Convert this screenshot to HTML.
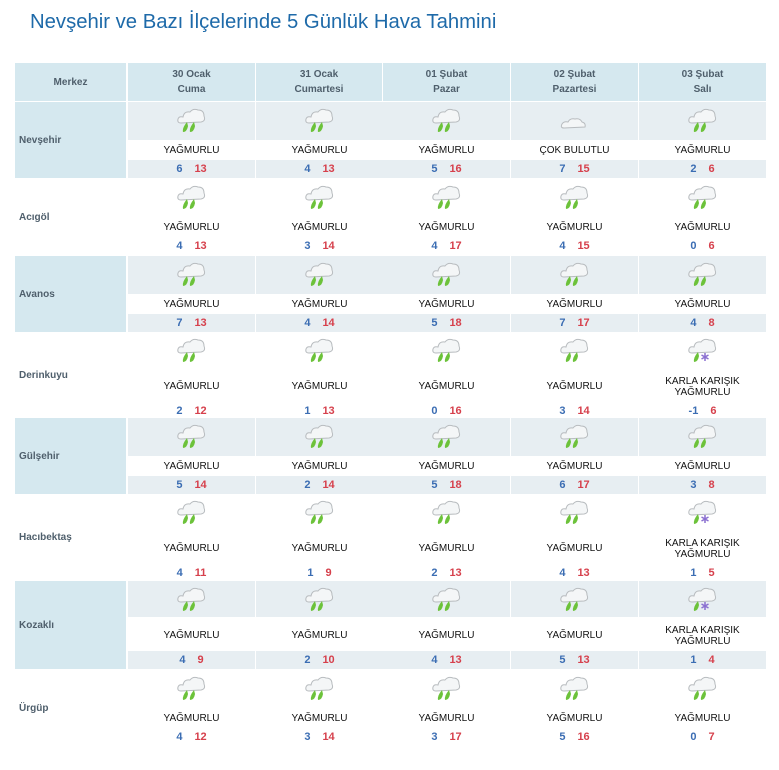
<!DOCTYPE html>
<html><head><meta charset="utf-8"><style>
body{margin:0;width:779px;height:770px;background:#fff;font-family:"Liberation Sans","DejaVu Sans",sans-serif;position:relative;overflow:hidden}
h1{position:absolute;left:30px;top:11px;margin:0;font-weight:normal;font-size:20.3px;color:#1e6aa9}
.hd{position:absolute;top:63px;height:38px;background:#d5e8ef;color:#4f5f6c;font-size:10px;font-weight:bold;text-align:center;line-height:15px;display:flex;flex-direction:column;justify-content:center}
.row{position:absolute;left:15px;width:751px}
.nm{position:absolute;left:0;top:0;bottom:0;width:111px;font-size:10px;font-weight:bold;color:#4f5f6c;display:flex;align-items:center;padding-left:4px;box-sizing:border-box}
.s .nm{background:#d5e8ef}
.c{position:absolute;top:0;bottom:0;width:127px}
.s .c .b1{position:absolute;left:0;right:0;top:0;height:var(--tb);background:#e7eef2}
.s .c .b2{position:absolute;left:0;right:0;bottom:0;height:18px;background:#e7eef2}
.ic{position:absolute;left:47px;top:4px;width:34px;height:30px}
.tx{position:absolute;left:0;right:0;top:var(--tx);text-align:center;font-size:10px;line-height:11px;color:#111}
.tx.two{top:calc(var(--tx) - 5px)}
.tp{position:absolute;left:0;right:0;top:var(--tp);text-align:center;font-size:11px;font-weight:bold;line-height:12px}
.lo{color:#3b6db3;margin-right:12px}.hi{color:#d6404c}
.n{--tb:38px;--tx:43px;--tp:61px;height:76px}
.t{--tb:36px;--tx:49px;--tp:73px;height:87px}
</style></head><body>
<svg width="0" height="0" style="position:absolute"><defs>
<g id="cl"><path d="M6 17 Q2 17 3 13 Q4 10 8 11 Q9 5 15 6 Q18 2 23 4 Q29 4 29 10 Q31 15 26 16 Z" fill="#f4f6f7" stroke="#b8bcbf" stroke-width="1"/></g>
<g id="r"><use href="#cl"/><path d="M12 16 Q7 22 8 26 Q12 26 13 20 Z" fill="#6cc23a"/><path d="M19 16 Q14 22 15 26 Q19 26 20 20 Z" fill="#6cc23a"/></g>
<g id="k"><use href="#cl"/><path d="M12 16 Q7 22 8 26 Q12 26 13 20 Z" fill="#6cc23a"/><path d="M19 17v8M15.5 19l7 4M15.5 23l7-4" stroke="#8a6fd0" stroke-width="1.5"/></g>
<g id="b"><path d="M6 22 Q2 22 4 18 Q6 15 10 16 Q12 12 17 13 Q22 12 24 16 Q28 17 27 21 Z" fill="#f4f6f7" stroke="#b8bcbf"/></g>
</defs></svg>
<h1>Nevşehir ve Bazı İlçelerinde 5 Günlük Hava Tahmini</h1>
<div class="hd" style="left:15px;width:111px">Merkez</div>
<div class="hd" style="left:128px;width:127px">30 Ocak<br>Cuma</div>
<div class="hd" style="left:256px;width:126px">31 Ocak<br>Cumartesi</div>
<div class="hd" style="left:383px;width:127px">01 Şubat<br>Pazar</div>
<div class="hd" style="left:511px;width:127px">02 Şubat<br>Pazartesi</div>
<div class="hd" style="left:639px;width:127px">03 Şubat<br>Salı</div>

<div class="row n s" style="top:102px"><div class="nm">Nevşehir</div>
<div class="c" style="left:113px"><div class="b1"></div><div class="b2"></div><svg class="ic"><use href="#r"/></svg><div class="tx">YAĞMURLU</div><div class="tp"><span class="lo">6</span><span class="hi">13</span></div></div>
<div class="c" style="left:241px"><div class="b1"></div><div class="b2"></div><svg class="ic"><use href="#r"/></svg><div class="tx">YAĞMURLU</div><div class="tp"><span class="lo">4</span><span class="hi">13</span></div></div>
<div class="c" style="left:368px"><div class="b1"></div><div class="b2"></div><svg class="ic"><use href="#r"/></svg><div class="tx">YAĞMURLU</div><div class="tp"><span class="lo">5</span><span class="hi">16</span></div></div>
<div class="c" style="left:496px"><div class="b1"></div><div class="b2"></div><svg class="ic"><use href="#b"/></svg><div class="tx">ÇOK BULUTLU</div><div class="tp"><span class="lo">7</span><span class="hi">15</span></div></div>
<div class="c" style="left:624px"><div class="b1"></div><div class="b2"></div><svg class="ic"><use href="#r"/></svg><div class="tx">YAĞMURLU</div><div class="tp"><span class="lo">2</span><span class="hi">6</span></div></div>
</div>

<div class="row n" style="top:179px"><div class="nm">Acıgöl</div>
<div class="c" style="left:113px"><svg class="ic"><use href="#r"/></svg><div class="tx">YAĞMURLU</div><div class="tp"><span class="lo">4</span><span class="hi">13</span></div></div>
<div class="c" style="left:241px"><svg class="ic"><use href="#r"/></svg><div class="tx">YAĞMURLU</div><div class="tp"><span class="lo">3</span><span class="hi">14</span></div></div>
<div class="c" style="left:368px"><svg class="ic"><use href="#r"/></svg><div class="tx">YAĞMURLU</div><div class="tp"><span class="lo">4</span><span class="hi">17</span></div></div>
<div class="c" style="left:496px"><svg class="ic"><use href="#r"/></svg><div class="tx">YAĞMURLU</div><div class="tp"><span class="lo">4</span><span class="hi">15</span></div></div>
<div class="c" style="left:624px"><svg class="ic"><use href="#r"/></svg><div class="tx">YAĞMURLU</div><div class="tp"><span class="lo">0</span><span class="hi">6</span></div></div>
</div>

<div class="row n s" style="top:256px"><div class="nm">Avanos</div>
<div class="c" style="left:113px"><div class="b1"></div><div class="b2"></div><svg class="ic"><use href="#r"/></svg><div class="tx">YAĞMURLU</div><div class="tp"><span class="lo">7</span><span class="hi">13</span></div></div>
<div class="c" style="left:241px"><div class="b1"></div><div class="b2"></div><svg class="ic"><use href="#r"/></svg><div class="tx">YAĞMURLU</div><div class="tp"><span class="lo">4</span><span class="hi">14</span></div></div>
<div class="c" style="left:368px"><div class="b1"></div><div class="b2"></div><svg class="ic"><use href="#r"/></svg><div class="tx">YAĞMURLU</div><div class="tp"><span class="lo">5</span><span class="hi">18</span></div></div>
<div class="c" style="left:496px"><div class="b1"></div><div class="b2"></div><svg class="ic"><use href="#r"/></svg><div class="tx">YAĞMURLU</div><div class="tp"><span class="lo">7</span><span class="hi">17</span></div></div>
<div class="c" style="left:624px"><div class="b1"></div><div class="b2"></div><svg class="ic"><use href="#r"/></svg><div class="tx">YAĞMURLU</div><div class="tp"><span class="lo">4</span><span class="hi">8</span></div></div>
</div>

<div class="row t" style="top:332px"><div class="nm">Derinkuyu</div>
<div class="c" style="left:113px"><svg class="ic"><use href="#r"/></svg><div class="tx">YAĞMURLU</div><div class="tp"><span class="lo">2</span><span class="hi">12</span></div></div>
<div class="c" style="left:241px"><svg class="ic"><use href="#r"/></svg><div class="tx">YAĞMURLU</div><div class="tp"><span class="lo">1</span><span class="hi">13</span></div></div>
<div class="c" style="left:368px"><svg class="ic"><use href="#r"/></svg><div class="tx">YAĞMURLU</div><div class="tp"><span class="lo">0</span><span class="hi">16</span></div></div>
<div class="c" style="left:496px"><svg class="ic"><use href="#r"/></svg><div class="tx">YAĞMURLU</div><div class="tp"><span class="lo">3</span><span class="hi">14</span></div></div>
<div class="c" style="left:624px"><svg class="ic"><use href="#k"/></svg><div class="tx two">KARLA KARIŞIK<br>YAĞMURLU</div><div class="tp"><span class="lo">-1</span><span class="hi">6</span></div></div>
</div>

<div class="row n s" style="top:418px"><div class="nm">Gülşehir</div>
<div class="c" style="left:113px"><div class="b1"></div><div class="b2"></div><svg class="ic"><use href="#r"/></svg><div class="tx">YAĞMURLU</div><div class="tp"><span class="lo">5</span><span class="hi">14</span></div></div>
<div class="c" style="left:241px"><div class="b1"></div><div class="b2"></div><svg class="ic"><use href="#r"/></svg><div class="tx">YAĞMURLU</div><div class="tp"><span class="lo">2</span><span class="hi">14</span></div></div>
<div class="c" style="left:368px"><div class="b1"></div><div class="b2"></div><svg class="ic"><use href="#r"/></svg><div class="tx">YAĞMURLU</div><div class="tp"><span class="lo">5</span><span class="hi">18</span></div></div>
<div class="c" style="left:496px"><div class="b1"></div><div class="b2"></div><svg class="ic"><use href="#r"/></svg><div class="tx">YAĞMURLU</div><div class="tp"><span class="lo">6</span><span class="hi">17</span></div></div>
<div class="c" style="left:624px"><div class="b1"></div><div class="b2"></div><svg class="ic"><use href="#r"/></svg><div class="tx">YAĞMURLU</div><div class="tp"><span class="lo">3</span><span class="hi">8</span></div></div>
</div>

<div class="row t" style="top:494px"><div class="nm">Hacıbektaş</div>
<div class="c" style="left:113px"><svg class="ic"><use href="#r"/></svg><div class="tx">YAĞMURLU</div><div class="tp"><span class="lo">4</span><span class="hi">11</span></div></div>
<div class="c" style="left:241px"><svg class="ic"><use href="#r"/></svg><div class="tx">YAĞMURLU</div><div class="tp"><span class="lo">1</span><span class="hi">9</span></div></div>
<div class="c" style="left:368px"><svg class="ic"><use href="#r"/></svg><div class="tx">YAĞMURLU</div><div class="tp"><span class="lo">2</span><span class="hi">13</span></div></div>
<div class="c" style="left:496px"><svg class="ic"><use href="#r"/></svg><div class="tx">YAĞMURLU</div><div class="tp"><span class="lo">4</span><span class="hi">13</span></div></div>
<div class="c" style="left:624px"><svg class="ic"><use href="#k"/></svg><div class="tx two">KARLA KARIŞIK<br>YAĞMURLU</div><div class="tp"><span class="lo">1</span><span class="hi">5</span></div></div>
</div>

<div class="row t s" style="top:581px;height:88px"><div class="nm">Kozaklı</div>
<div class="c" style="left:113px"><div class="b1"></div><div class="b2"></div><svg class="ic"><use href="#r"/></svg><div class="tx">YAĞMURLU</div><div class="tp"><span class="lo">4</span><span class="hi">9</span></div></div>
<div class="c" style="left:241px"><div class="b1"></div><div class="b2"></div><svg class="ic"><use href="#r"/></svg><div class="tx">YAĞMURLU</div><div class="tp"><span class="lo">2</span><span class="hi">10</span></div></div>
<div class="c" style="left:368px"><div class="b1"></div><div class="b2"></div><svg class="ic"><use href="#r"/></svg><div class="tx">YAĞMURLU</div><div class="tp"><span class="lo">4</span><span class="hi">13</span></div></div>
<div class="c" style="left:496px"><div class="b1"></div><div class="b2"></div><svg class="ic"><use href="#r"/></svg><div class="tx">YAĞMURLU</div><div class="tp"><span class="lo">5</span><span class="hi">13</span></div></div>
<div class="c" style="left:624px"><div class="b1"></div><div class="b2"></div><svg class="ic"><use href="#k"/></svg><div class="tx two">KARLA KARIŞIK<br>YAĞMURLU</div><div class="tp"><span class="lo">1</span><span class="hi">4</span></div></div>
</div>

<div class="row n" style="top:670px"><div class="nm">Ürgüp</div>
<div class="c" style="left:113px"><svg class="ic"><use href="#r"/></svg><div class="tx">YAĞMURLU</div><div class="tp"><span class="lo">4</span><span class="hi">12</span></div></div>
<div class="c" style="left:241px"><svg class="ic"><use href="#r"/></svg><div class="tx">YAĞMURLU</div><div class="tp"><span class="lo">3</span><span class="hi">14</span></div></div>
<div class="c" style="left:368px"><svg class="ic"><use href="#r"/></svg><div class="tx">YAĞMURLU</div><div class="tp"><span class="lo">3</span><span class="hi">17</span></div></div>
<div class="c" style="left:496px"><svg class="ic"><use href="#r"/></svg><div class="tx">YAĞMURLU</div><div class="tp"><span class="lo">5</span><span class="hi">16</span></div></div>
<div class="c" style="left:624px"><svg class="ic"><use href="#r"/></svg><div class="tx">YAĞMURLU</div><div class="tp"><span class="lo">0</span><span class="hi">7</span></div></div>
</div>
</body></html>
